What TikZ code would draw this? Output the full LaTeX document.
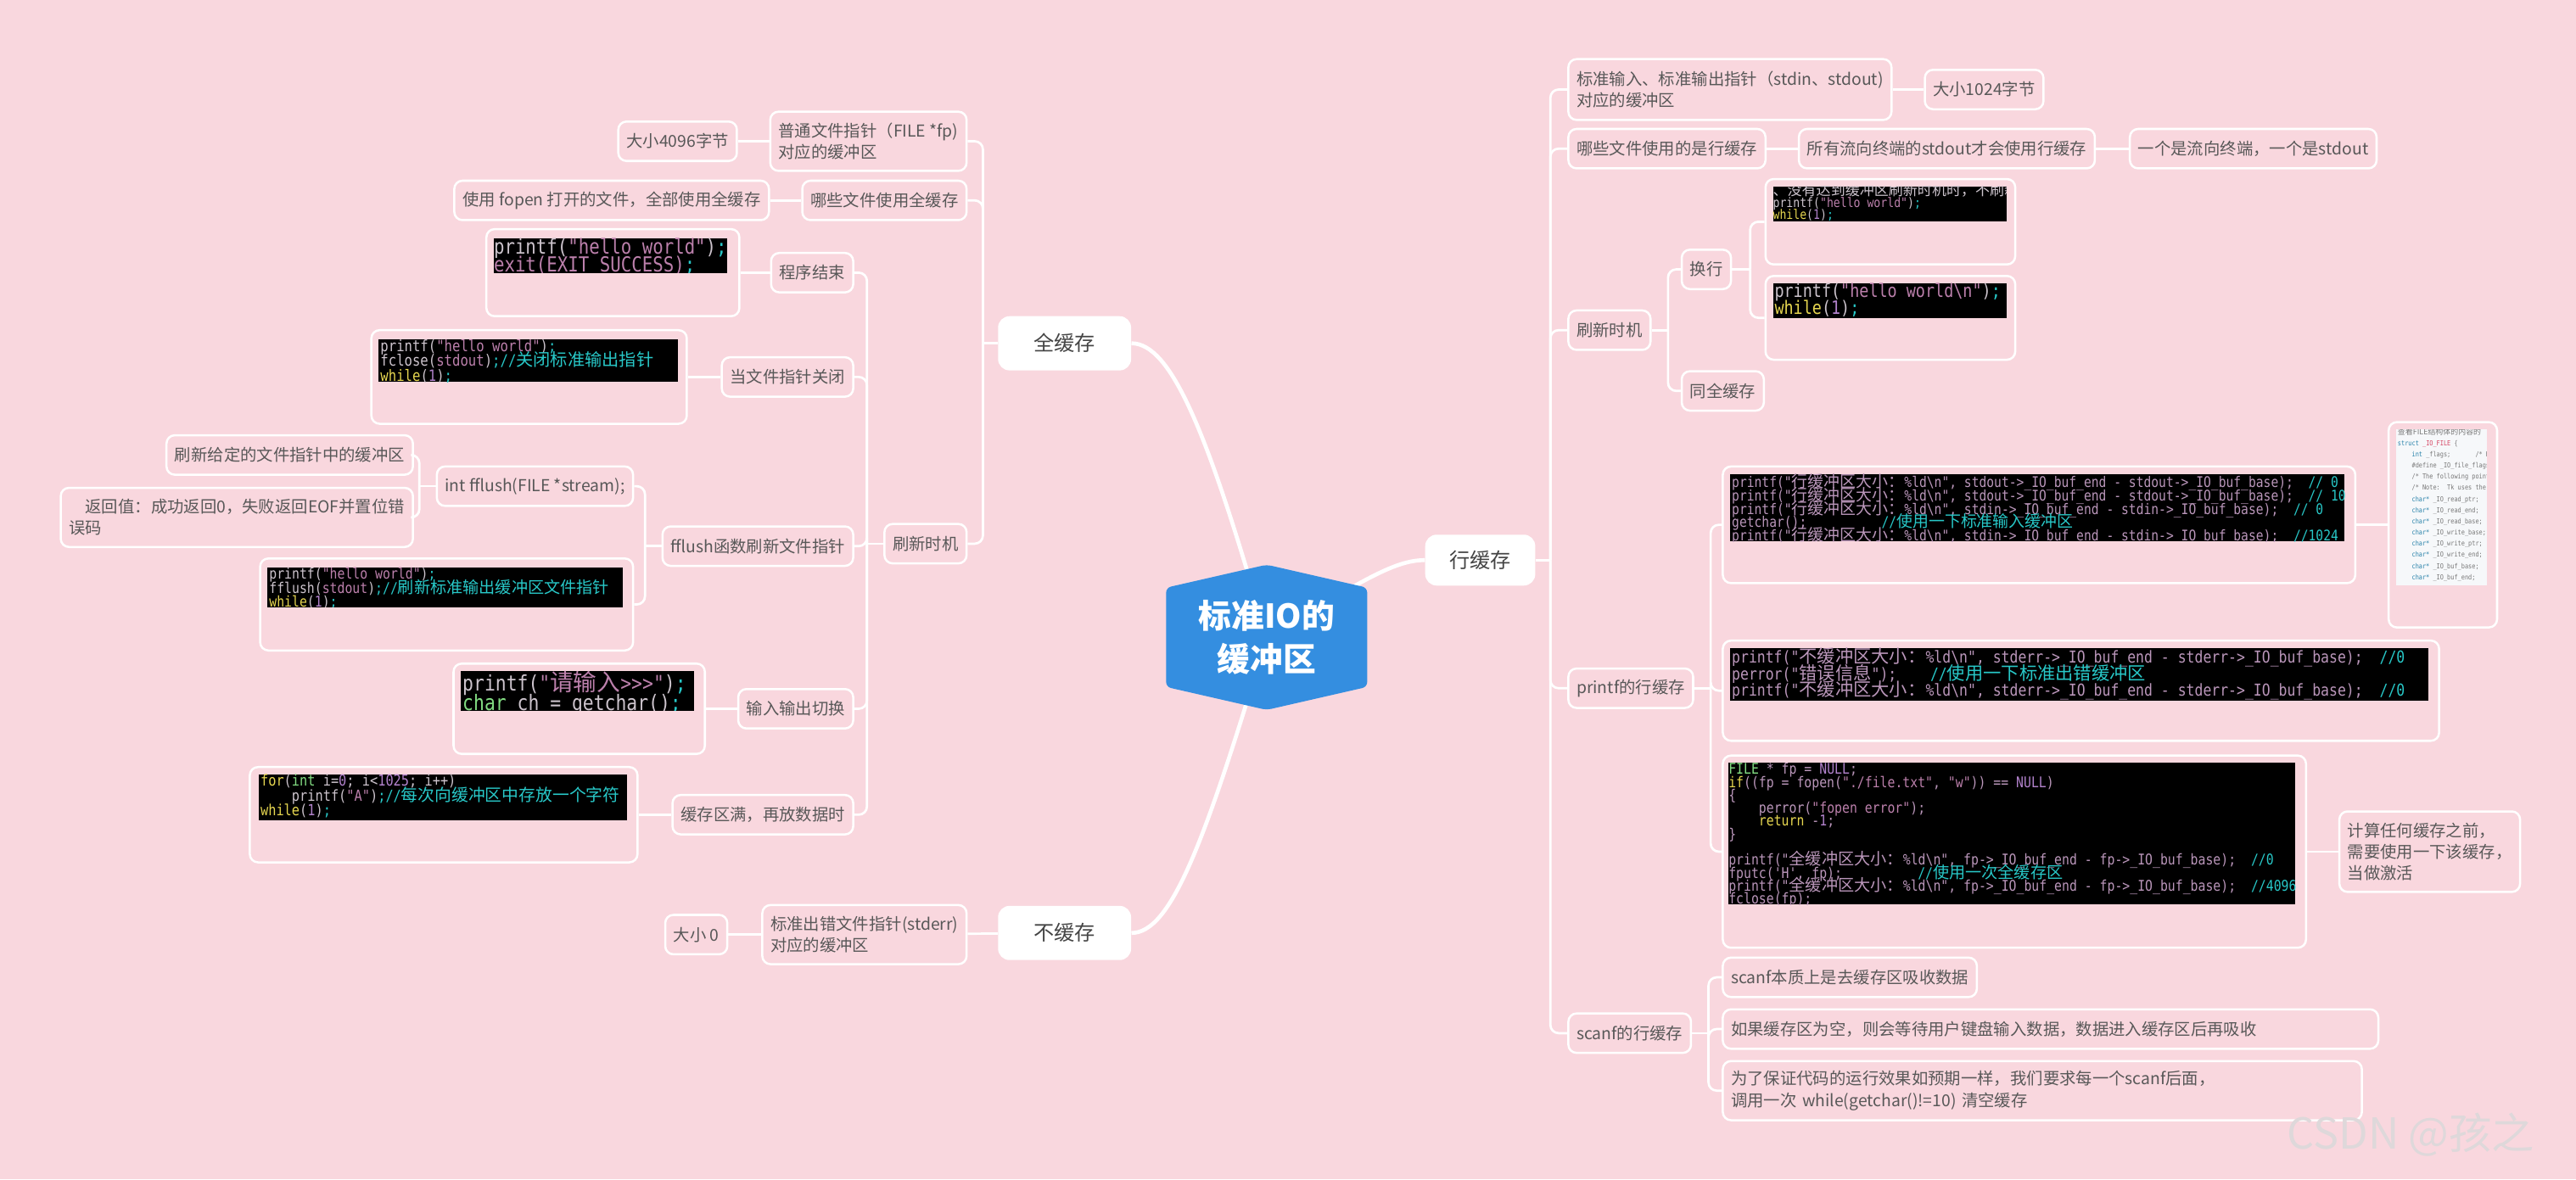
\documentclass[tikz,border=0pt]{standalone}
\usepackage{fontspec}
\setmainfont{Noto Sans CJK SC}
\newfontfamily\codefont[FakeStretch=0.85,Ligatures=TeXOff]{DejaVu Sans Mono}
\newfontfamily\zhcode[Scale=1.1]{Noto Sans CJK SC}
\usepackage{tikz}
\usetikzlibrary{positioning,backgrounds}
\pgfdeclarelayer{paper}
\pgfsetlayers{paper,background,main}
\usepackage{xcolor}
\definecolor{paperpink}{RGB}{249,215,222}
\definecolor{rootblue}{RGB}{52,142,224}
\definecolor{labelgray}{RGB}{88,88,88}
\definecolor{topicgray}{RGB}{68,68,68}
\definecolor{markgray}{RGB}{222,216,218}
\definecolor{codefg}{RGB}{205,196,205}
\definecolor{codeid}{RGB}{186,150,186}
\definecolor{codestr}{RGB}{188,128,172}
\definecolor{codecom}{RGB}{40,200,200}
\definecolor{codekw}{RGB}{230,214,80}
\definecolor{codety}{RGB}{130,220,130}
\definecolor{codenum}{RGB}{178,130,204}
\definecolor{docbg}{RGB}{246,248,250}
\definecolor{docgray}{RGB}{120,120,120}
\definecolor{docblue}{RGB}{40,130,170}
\definecolor{docred}{RGB}{214,70,100}
\setlength{\lineskiplimit}{-20pt}
\newcommand\zh[1]{{\zhcode #1}}
\newcommand\cstr[1]{\textcolor{codestr}{#1}}
\newcommand\ccom[1]{\textcolor{codecom}{#1}}
\newcommand\ckw[1]{\textcolor{codekw}{#1}}
\newcommand\cty[1]{\textcolor{codety}{#1}}
\newcommand\cnum[1]{\textcolor{codenum}{#1}}
\tikzstyle{wire}=[white,line width=1.4pt,rounded corners=5pt]
\tikzstyle{trunk}=[white,line width=2.4pt]
\tikzstyle{root}=[minimum width=122,minimum height=88,inner sep=0pt,text=white,font=\bfseries\fontsize{20}{26}\selectfont,align=center]
\tikzstyle{topic}=[fill=white,rounded corners=7pt,minimum width=81,minimum height=33,text=topicgray,font=\fontsize{12.5}{15}\selectfont]
\tikzstyle{leaf}=[draw=white,line width=1.3pt,rounded corners=5pt,minimum height=24,inner xsep=5pt,inner ysep=3pt,text=labelgray,font=\fontsize{10}{13}\selectfont,align=left]
\tikzstyle{codebox}=[draw=white,line width=1.3pt,rounded corners=5pt,inner sep=0pt]
\tikzstyle{shot}=[fill=black,inner sep=0pt,anchor=north west]
\tikzstyle{code}=[anchor=north west,inner sep=0pt,text=codefg,align=left]

\begin{document}
\begin{tikzpicture}[x=1pt,y=-1pt]
  \begin{pgfonlayer}{paper}
    \fill[paperpink] (0,0) rectangle (1568,718);
  \end{pgfonlayer}
  \useasboundingbox (0,0) rectangle (1568,718);

  \node[root] (root) at (771,388) {标准IO的\\缓冲区};
  \node[topic] (full) at (648,209) {全缓存};
  \node[topic] (none) at (648,568) {不缓存};
  \node[topic,minimum width=67,minimum height=31] (line) at (901,341) {行缓存};

  % full buffering
  \node[leaf,anchor=east,minimum height=36] (fpbuf) at (589,86) {普通文件指针（FILE *fp)\\对应的缓冲区};
  \node[leaf,left=19pt of fpbuf] (size4096) {大小4096字节};
  \node[leaf,anchor=east] (whichfull) at (589,122) {哪些文件使用全缓存};
  \node[leaf,left=19pt of whichfull] (fopenall) {使用 fopen 打开的文件，全部使用全缓存};
  \node[leaf,anchor=east] (flushL) at (589,331) {刷新时机};

  \node[leaf,anchor=east] (progend) at (520,166) {程序结束};
  \node[codebox,minimum width=154,minimum height=53,left=18pt of progend] (exitbox) {};
  \node[shot,minimum width=142,minimum height=21] (exitshot) at ([shift={(5,6)}]exitbox.north west) {};
  \begin{scope}
    \clip (exitshot.north west) rectangle (exitshot.south east);
    \node[code,font=\codefont\fontsize{12.6}{11}\selectfont] (exitcode) at (exitshot.north west)
      {printf(\cstr{"hello world"})\ccom{;}\\\cstr{exit(EXIT\_SUCCESS)}\ccom{;}};
  \end{scope}

  \node[leaf,anchor=east] (fclosed) at (520,229.5) {当文件指针关闭};
  \node[codebox,minimum width=192,minimum height=57,left=20pt of fclosed] (closebox) {};
  \node[shot,minimum width=182,minimum height=26] (closeshot) at ([shift={(5,6)}]closebox.north west) {};
  \begin{scope}
    \clip (closeshot.north west) rectangle (closeshot.south east);
    \node[code,font=\codefont\fontsize{9.5}{9.1}\selectfont] (closecode) at ([shift={(1,0)}]closeshot.north west)
      {printf(\cstr{"hello world"})\ccom{;}\\fclose(\cstr{stdout})\ccom{;//\zh{关闭标准输出指针}}\\\ckw{while}(\cnum{1})\ccom{;}};
  \end{scope}

  \node[leaf,anchor=east] (fflushfn) at (520,332.5) {fflush函数刷新文件指针};
  \node[leaf,anchor=east] (fflushsig) at (386,296) {int fflush(FILE *stream);};
  \node[leaf,anchor=east] (flushdesc) at (252,277) {刷新给定的文件指针中的缓冲区};
  \node[leaf,anchor=east,minimum height=36] (retdesc) at (252,315) {\hspace*{1em}返回值：成功返回0，失败返回EOF并置位错\\误码};
  \node[codebox,minimum width=227,minimum height=56,anchor=east] (flushbox) at (386,368) {};
  \node[shot,minimum width=216,minimum height=24] (flushshot) at ([shift={(5,6)}]flushbox.north west) {};
  \begin{scope}
    \clip (flushshot.north west) rectangle (flushshot.south east);
    \node[code,font=\codefont\fontsize{9}{8.6}\selectfont] (flushcode) at ([shift={(1,0)}]flushshot.north west)
      {printf(\cstr{"hello world"})\ccom{;}\\fflush(\cstr{stdout})\ccom{;//\zh{刷新标准输出缓冲区文件指针}}\\\ckw{while}(\cnum{1})\ccom{;}};
  \end{scope}

  \node[leaf,anchor=east] (iosw) at (520,431.5) {输入输出切换};
  \node[codebox,minimum width=153,minimum height=55,left=19pt of iosw] (iobox) {};
  \node[shot,minimum width=142,minimum height=24] (ioshot) at ([shift={(5,5)}]iobox.north west) {};
  \begin{scope}
    \clip (ioshot.north west) rectangle (ioshot.south east);
    \node[code,font=\codefont\fontsize{13}{11.7}\selectfont] (iocode) at ([shift={(1,0)}]ioshot.north west)
      {printf(\cstr{"\zh{请输入}>>>"})\ccom{;}\\\cty{char} ch = getchar()\ccom{;}};
  \end{scope}

  \node[leaf,anchor=east] (bufull) at (520,496) {缓存区满，再放数据时};
  \node[codebox,minimum width=236,minimum height=58,left=20pt of bufull] (fullbox) {};
  \node[shot,minimum width=224,minimum height=28] (fullshot) at ([shift={(6,5)}]fullbox.north west) {};
  \begin{scope}
    \clip (fullshot.north west) rectangle (fullshot.south east);
    \node[code,font=\codefont\fontsize{9.3}{9.1}\selectfont] (fullcode) at ([shift={(1,0)}]fullshot.north west)
      {\ckw{for}(\cty{int} i=\cnum{0}; i<\cnum{1025}; i++)\\\hphantom{xxxx}printf(\cstr{"A"})\ccom{;//\zh{每次向缓冲区中存放一个字符}}\\\ckw{while}(\cnum{1})\ccom{;}};
  \end{scope}

  % no buffering
  \node[leaf,anchor=east,minimum height=36] (stderrbuf) at (589,569) {标准出错文件指针(stderr)\\对应的缓冲区};
  \node[leaf,left=20pt of stderrbuf] (size0) {大小 0};

  % line buffering
  \node[leaf,anchor=west,minimum height=37] (stdio) at (954,54.5) {标准输入、标准输出指针（stdin、stdout)\\对应的缓冲区};
  \node[leaf,right=19pt of stdio] (size1024) {大小1024字节};
  \node[leaf,anchor=west] (whichline) at (954,90.5) {哪些文件使用的是行缓存};
  \node[leaf,right=19pt of whichline] (allterm) {所有流向终端的stdout才会使用行缓存};
  \node[leaf,right=20pt of allterm] (oneterm) {一个是流向终端，一个是stdout};
  \node[leaf,anchor=west] (flushR) at (954,201) {刷新时机};
  \node[leaf,anchor=west] (newline) at (1023,164) {换行};
  \node[leaf,anchor=west] (samefull) at (1023,238) {同全缓存};

  \node[codebox,minimum width=152,minimum height=52,anchor=west] (nonlbox) at (1074,135) {};
  \node[shot,minimum width=142,minimum height=21] (nonlshot) at ([shift={(5,5)}]nonlbox.north west) {};
  \begin{scope}
    \clip (nonlshot.north west) rectangle (nonlshot.south east);
    \node[code,font=\codefont\fontsize{8}{7.3}\selectfont] (nonlcode) at ([shift={(0,-2)}]nonlshot.north west)
      {\zh{、没有达到缓冲区刷新时机时，不刷新}\\printf(\cstr{"hello world"})\ccom{;}\\\ckw{while}(\cnum{1})\ccom{;}};
  \end{scope}
  \node[codebox,minimum width=152,minimum height=51,anchor=west] (nlbox) at (1074,193.5) {};
  \node[shot,minimum width=142,minimum height=21] (nlshot) at ([shift={(5,5)}]nlbox.north west) {};
  \begin{scope}
    \clip (nlshot.north west) rectangle (nlshot.south east);
    \node[code,font=\codefont\fontsize{11.2}{10}\selectfont] (nlcode) at ([shift={(1,0)}]nlshot.north west)
      {printf(\cstr{"hello world\textbackslash n"})\ccom{;}\\\ckw{while}(\cnum{1})\ccom{;}};
  \end{scope}

  \node[leaf,anchor=west] (printfline) at (954,419) {printf的行缓存};
  \node[codebox,minimum width=385,minimum height=71,anchor=west] (linebox) at (1048,319.5) {};
  \node[shot,minimum width=374,minimum height=41] (lineshot) at ([shift={(5,5)}]linebox.north west) {};
  \begin{scope}
    \clip (lineshot.north west) rectangle (lineshot.south east);
    \node[code,text=codeid,font=\codefont\fontsize{8.9}{8.1}\selectfont] (linecode) at ([shift={(1,0)}]lineshot.north west)
      {printf("\zh{行缓冲区大小：}\%ld\textbackslash n", stdout->\_IO\_buf\_end - stdout->\_IO\_buf\_base);~~\ccom{//~0}\\
       printf("\zh{行缓冲区大小：}\%ld\textbackslash n", stdout->\_IO\_buf\_end - stdout->\_IO\_buf\_base);~~\ccom{//~10}\\
       printf("\zh{行缓冲区大小：}\%ld\textbackslash n", stdin->\_IO\_buf\_end - stdin->\_IO\_buf\_base);~~\ccom{//~0}\\
       getchar();\hphantom{xxxxxxxxxx}\ccom{//\zh{使用一下标准输入缓冲区}}\\
       printf("\zh{行缓冲区大小：}\%ld\textbackslash n", stdin->\_IO\_buf\_end - stdin->\_IO\_buf\_base);~~\ccom{//1024}};
  \end{scope}
  \node[codebox,minimum width=66,minimum height=125,right=19pt of linebox] (structbox) {};
  \node[shot,fill=docbg,minimum width=55,minimum height=95] (structshot) at ([shift={(5,5)}]structbox.north west) {};
  \begin{scope}
    \clip (structshot.north west) rectangle (structshot.south east);
    \node[code,text=docgray,font=\codefont\fontsize{4.2}{6.8}\selectfont] (structcode) at ([shift={(1,-1)}]structshot.north west)
      {\zh{查看FILE结构体的内容的}\\
       \textcolor{docblue}{struct} \textcolor{docred}{\_IO\_FILE} \{\\
       \hphantom{xxxx}\textcolor{docblue}{int} \_flags;\hphantom{xxxxxxx}/* High-order\\
       \hphantom{xxxx}\#define \_IO\_file\_flags \_flags\\
       \hphantom{xxxx}/* The following pointers\\
       \hphantom{xxxx}/* Note:~~Tk uses the\\
       \hphantom{xxxx}\textcolor{docblue}{char*} \_IO\_read\_ptr;~~~/*\\
       \hphantom{xxxx}\textcolor{docblue}{char*} \_IO\_read\_end;~~~/*\\
       \hphantom{xxxx}\textcolor{docblue}{char*} \_IO\_read\_base;~~/*\\
       \hphantom{xxxx}\textcolor{docblue}{char*} \_IO\_write\_base;~/*\\
       \hphantom{xxxx}\textcolor{docblue}{char*} \_IO\_write\_ptr;~~/*\\
       \hphantom{xxxx}\textcolor{docblue}{char*} \_IO\_write\_end;~~/*\\
       \hphantom{xxxx}\textcolor{docblue}{char*} \_IO\_buf\_base;~~~/*\\
       \hphantom{xxxx}\textcolor{docblue}{char*} \_IO\_buf\_end;~~~~/*};
  \end{scope}

  \node[codebox,minimum width=436,minimum height=61,anchor=west] (nonebox) at (1048,420.5) {};
  \node[shot,minimum width=425,minimum height=32] (noneshot) at ([shift={(5,5)}]nonebox.north west) {};
  \begin{scope}
    \clip (noneshot.north west) rectangle (noneshot.south east);
    \node[code,text=codeid,font=\codefont\fontsize{10}{10}\selectfont] (nonecode) at ([shift={(1,0)}]noneshot.north west)
      {printf("\zh{不缓冲区大小：}\%ld\textbackslash n", stderr->\_IO\_buf\_end - stderr->\_IO\_buf\_base);~~\ccom{//0}\\
       perror("\zh{错误信息}");\hphantom{xxxx}\ccom{//\zh{使用一下标准出错缓冲区}}\\
       printf("\zh{不缓冲区大小：}\%ld\textbackslash n", stderr->\_IO\_buf\_end - stderr->\_IO\_buf\_base);~~\ccom{//0}};
  \end{scope}

  \node[codebox,minimum width=355,minimum height=117,anchor=west] (fpbox) at (1048,518.5) {};
  \node[shot,minimum width=345,minimum height=86] (fpshot) at ([shift={(4,5)}]fpbox.north west) {};
  \begin{scope}
    \clip (fpshot.north west) rectangle (fpshot.south east);
    \node[code,text=codeid,font=\codefont\fontsize{9}{7.9}\selectfont] (fpcode) at (fpshot.north west)
      {\cty{FILE} * fp = \cnum{NULL};\\
       \ckw{if}((fp = fopen(\cstr{"./file.txt"}, \cstr{"w"})) == \cnum{NULL})\\
       \{\\
       \hphantom{xxxx}perror(\cstr{"fopen error"});\\
       \hphantom{xxxx}\ckw{return} -\cnum{1};\\
       \}\\
       \mbox{}\\
       printf("\zh{全缓冲区大小：}\%ld\textbackslash n", fp->\_IO\_buf\_end - fp->\_IO\_buf\_base);~~\ccom{//0}\\
       fputc('H', fp);\hphantom{xxxxxxxxxx}\ccom{//\zh{使用一次全缓存区}}\\
       printf("\zh{全缓冲区大小：}\%ld\textbackslash n", fp->\_IO\_buf\_end - fp->\_IO\_buf\_base);~~\ccom{//4096}\\
       fclose(fp);};
  \end{scope}
  \node[leaf,minimum height=49,right=19pt of fpbox] (activate) {计算任何缓存之前，\\需要使用一下该缓存，\\当做激活};

  \node[leaf,anchor=west] (scanfline) at (954,629) {scanf的行缓存};
  \node[leaf,anchor=west] (scanfa) at (1048,595) {scanf本质上是去缓存区吸收数据};
  \node[leaf,anchor=west,text width=389pt] (scanfb) at (1048,626.5) {如果缓存区为空，则会等待用户键盘输入数据，数据进入缓存区后再吸收};
  \node[leaf,anchor=west,text width=379pt,minimum height=36] (scanfc) at (1048,664) {为了保证代码的运行效果如预期一样，我们要求每一个scanf后面，\\调用一次 while(getchar()!=10) 清空缓存};

  \node[anchor=west,inner sep=0pt,text=markgray,font=\fontsize{26}{26}\selectfont] (mark) at (1392,691) {CSDN @孩之};

  % bus points
  \coordinate (fullbus) at ([xshift=-9pt]full.west);
  \coordinate (flbus) at ([xshift=-10pt]flushL.west);
  \coordinate (fnbus) at ([xshift=-10pt]fflushfn.west);
  \coordinate (sigbus) at ([xshift=-10pt]fflushsig.west);
  \coordinate (linebus) at ([xshift=9pt]line.east);
  \coordinate (frbus) at ([xshift=10pt]flushR.east);
  \coordinate (nlbus) at ([xshift=11pt]newline.east);
  \coordinate (pfbus) at ([xshift=10pt]printfline.east);
  \coordinate (sfbus) at ([xshift=10pt]scanfline.east);

  \begin{scope}[on background layer]
    \draw[trunk] (full.east) .. controls +(24,0) and +(-36,-126) .. (root.center);
    \draw[trunk] (none.east) .. controls +(24,0) and +(-38,126) .. (root.center);
    \draw[trunk] (line.west) .. controls +(-20,0) and +(55,-32) .. (root.center);
    \fill[rootblue,rounded corners=3pt] (root.north) -- ([yshift=-14pt]root.north east) -- ([yshift=14pt]root.south east)
      -- (root.south) -- ([yshift=14pt]root.south west) -- ([yshift=-14pt]root.north west) -- cycle;

    \foreach \kid in {fpbuf,whichfull,flushL} \draw[wire] (\kid.east) -| (fullbus);
    \draw[wire] (fullbus) -- (full.west);
    \foreach \kid in {progend,fclosed,fflushfn,iosw,bufull} \draw[wire] (\kid.east) -| (flbus);
    \draw[wire] (flbus) -- (flushL.west);
    \foreach \kid in {fflushsig,flushbox} \draw[wire] (\kid.east) -| (fnbus);
    \draw[wire] (fnbus) -- (fflushfn.west);
    \foreach \kid in {flushdesc,retdesc} \draw[wire] (\kid.east) -| (sigbus);
    \draw[wire] (sigbus) -- (fflushsig.west);
    \draw[wire] (size4096) -- (fpbuf);
    \draw[wire] (fopenall) -- (whichfull);
    \draw[wire] (exitbox) -- (progend);
    \draw[wire] (closebox) -- (fclosed);
    \draw[wire] (iobox) -- (iosw);
    \draw[wire] (fullbox) -- (bufull);
    \draw[wire] (stderrbuf) -- (none);
    \draw[wire] (size0) -- (stderrbuf);

    \foreach \kid in {stdio,whichline,flushR,printfline,scanfline} \draw[wire] (\kid.west) -| (linebus);
    \draw[wire] (linebus) -- (line.east);
    \foreach \kid in {newline,samefull} \draw[wire] (\kid.west) -| (frbus);
    \draw[wire] (frbus) -- (flushR.east);
    \foreach \kid in {nonlbox,nlbox} \draw[wire] (\kid.west) -| (nlbus);
    \draw[wire] (nlbus) -- (newline.east);
    \foreach \kid in {linebox,nonebox,fpbox} \draw[wire] (\kid.west) -| (pfbus);
    \draw[wire] (pfbus) -- (printfline.east);
    \foreach \kid in {scanfa,scanfb,scanfc} \draw[wire] (\kid.west) -| (sfbus);
    \draw[wire] (sfbus) -- (scanfline.east);
    \draw[wire] (stdio) -- (size1024);
    \draw[wire] (whichline) -- (allterm);
    \draw[wire] (allterm) -- (oneterm);
    \draw[wire] (linebox) -- (structbox);
    \draw[wire] (fpbox) -- (activate);
  \end{scope}
\end{tikzpicture}
\end{document}
